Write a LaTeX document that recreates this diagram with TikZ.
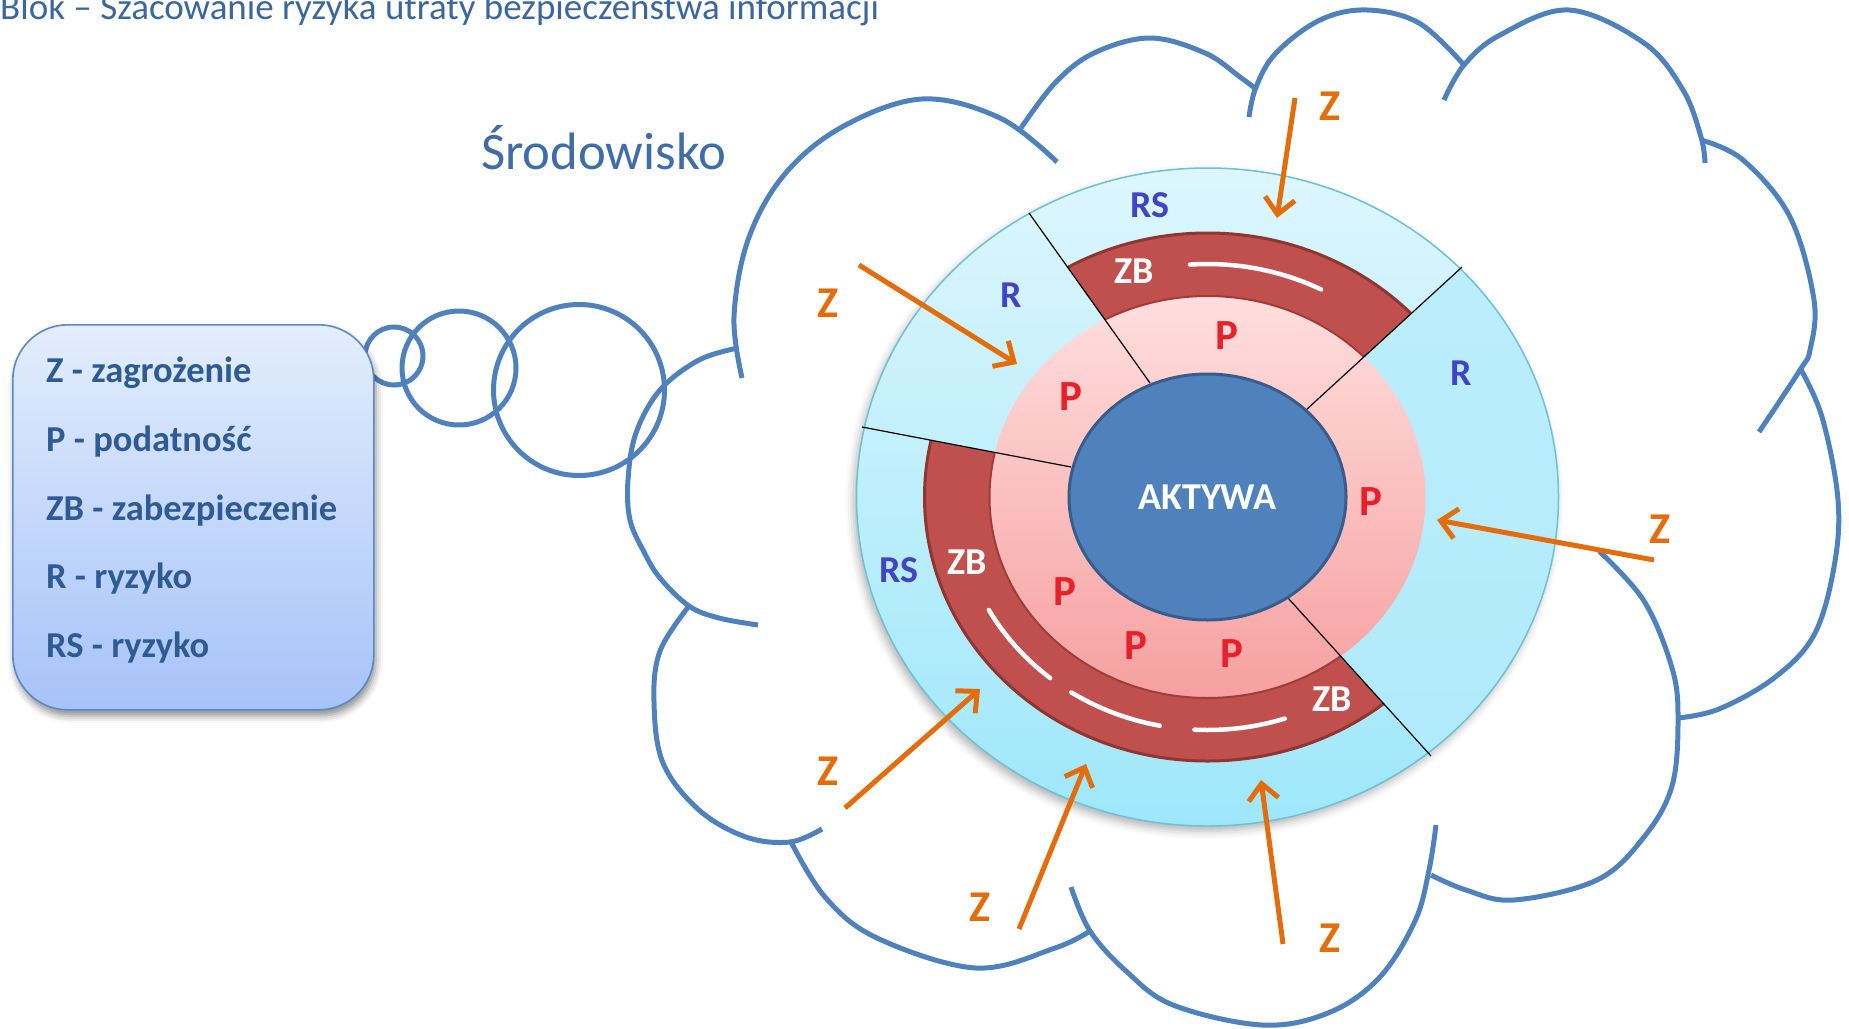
\documentclass[tikz,border=0pt]{standalone}
\usepackage{fontspec}
\setmainfont{Carlito}
\usetikzlibrary{arrows.meta,shapes.geometric,shadows.blur}

\definecolor{cloudblue}{HTML}{4F81BD}
\definecolor{titleblue}{HTML}{3B679E}
\definecolor{envblue}{HTML}{3F6DA7}
\definecolor{legendtext}{HTML}{2E5B94}
\definecolor{legendtop}{HTML}{E3EDFD}
\definecolor{legendbottom}{HTML}{A6C3F8}
\definecolor{legendborder}{HTML}{5B8AC6}
\definecolor{ringtop}{HTML}{DDF6FD}
\definecolor{ringbottom}{HTML}{9EE7FA}
\definecolor{ringedge}{HTML}{6DC0D6}
\definecolor{sectortop}{HTML}{BFEEFC}
\definecolor{sectorbottom}{HTML}{AEEAFB}
\definecolor{zbred}{HTML}{C0504D}
\definecolor{zbdark}{HTML}{8F3532}
\definecolor{pinktop}{HTML}{FFDEDE}
\definecolor{pinkbottom}{HTML}{F6A0A0}
\definecolor{pinkrim}{HTML}{A03C39}
\definecolor{coreblue}{HTML}{4F81BD}
\definecolor{coreedge}{HTML}{385D8A}
\definecolor{riskblue}{HTML}{4343C6}
\definecolor{vulnred}{HTML}{E8202A}
\definecolor{threat}{HTML}{E46C0A}

\tikzset{
  cloudline/.style={draw=cloudblue, line width=5pt},
  bubble/.style={circle, draw=cloudblue, line width=5pt, inner sep=0pt},
  legendbox/.style={rectangle, rounded corners=55pt, draw=legendborder, line width=1.6pt,
    top color=legendtop, bottom color=legendbottom, inner sep=0pt,
    blur shadow={shadow xshift=2pt, shadow yshift=-6pt, shadow blur radius=7pt, shadow opacity=45}},
  legendline/.style={anchor=base west, inner sep=0pt, text=legendtext,
    font=\bfseries\fontsize{36.5}{40}\selectfont},
  divider/.style={draw=black, line width=1.2pt},
  highlight/.style={draw=white, line width=4.5pt, line cap=round},
  core/.style={ellipse, minimum width=277pt, minimum height=246pt, inner sep=0pt,
    fill=coreblue, draw=coreedge, line width=3pt, text=white,
    font=\bfseries\fontsize{38}{40}\selectfont},
  risklabel/.style={inner sep=0pt, text=riskblue, font=\bfseries\fontsize{38}{40}\selectfont},
  guardlabel/.style={inner sep=0pt, text=white, font=\bfseries\fontsize{38}{40}\selectfont},
  vulnlabel/.style={inner sep=0pt, text=vulnred, font=\bfseries\fontsize{43}{45}\selectfont},
  threatlabel/.style={inner sep=0pt, text=threat, font=\bfseries\fontsize{44}{46}\selectfont},
  threatarrow/.style={draw=threat, line width=5pt, -{Straight Barb[length=16pt, width=30pt]}},
}

\begin{document}
\begin{tikzpicture}[x=1pt, y=-1pt]
\useasboundingbox (0,0) rectangle (1849,1028);

% headings
\node[anchor=base west, inner sep=0pt, text=titleblue, font=\fontsize{37}{40}\selectfont]
  (heading) at (0,19.5) {Blok – Szacowanie ryzyka utraty bezpieczeństwa informacji};
\node[anchor=base west, inner sep=0pt, text=envblue, font=\fontsize{52.7}{56}\selectfont]
  (env) at (481,169) {Środowisko};

% thought bubbles leading to the legend
\node[bubble, minimum size=58pt] (bubA) at (394,356) {};
\node[bubble, minimum size=114pt] (bubB) at (459,368) {};
\node[bubble, minimum size=171pt] (bubC) at (579,390) {};

% legend
\node[legendbox, minimum width=361pt, minimum height=385pt, anchor=north west] (legend) at (12,324) {};
\node[legendline] (legZ)  at (46,382) {Z - zagrożenie};
\node[legendline] (legP)  at (46,451) {P - podatność};
\node[legendline] (legZB) at (46,520) {ZB - zabezpieczenie};
\node[legendline] (legR)  at (46,588) {R - ryzyko};
\node[legendline] (legRS) at (46,657) {RS - ryzyko};

% environment cloud, bump by bump
\draw[cloudline] plot[smooth, tension=0.6] coordinates {(742,378) (734,317) (748,240) (784,175) (842,127) (922,99) (1000,118) (1057,162)};
\draw[cloudline] plot[smooth, tension=0.6] coordinates {(1021,128) (1055,83) (1094,53) (1150,38) (1205,53) (1240,77) (1257,90)};
\draw[cloudline] plot[smooth, tension=0.6] coordinates {(1249,117) (1256,87) (1276,53) (1320,20) (1367,10) (1419,23) (1464,65)};
\draw[cloudline] plot[smooth, tension=0.6] coordinates {(1444,100) (1464,65) (1500,35) (1569,10) (1644,43) (1683,90) (1701,137) (1705,163)};
\draw[cloudline] plot[smooth, tension=0.6] coordinates {(1701,140) (1743,160) (1790,217) (1814,300) (1810,350) (1800,370) (1759,432)};
\draw[cloudline] plot[smooth, tension=0.6] coordinates {(1800,368) (1822,417) (1838,500) (1834,567) (1814,635) (1774,678) (1719,709) (1678,718)};
\draw[cloudline] plot[smooth, tension=0.6] coordinates {(1599,551) (1644,601) (1672,668) (1678,719) (1672,786) (1644,837) (1597,880) (1514,900) (1466,890) (1431,875)};
\draw[cloudline] plot[smooth, tension=0.6] coordinates {(1436,825) (1429,870) (1415,921) (1379,978) (1328,1013) (1262,1025) (1173,1005) (1126,971) (1090,931) (1071,887)};
\draw[cloudline] plot[smooth, tension=0.6] coordinates {(790,840) (825,897) (877,938) (976,968) (1055,948) (1090,931)};
\draw[cloudline] plot[smooth, tension=0.6] coordinates {(689,606) (660,651) (654,702) (663,763) (699,810) (746,837) (790,842) (822,829)};
\draw[cloudline] plot[smooth, tension=0.6] coordinates {(738,348) (699,360) (660,390) (636,433) (628,480) (630,520) (644,552) (660,578) (689,606) (719,618) (758,625)};

% layered rings around the assets
\coordinate (ctr) at (1207.5,497);
\shade[top color=ringtop, bottom color=ringbottom,
  blur shadow={shadow xshift=-3pt, shadow yshift=-5pt, shadow blur radius=8pt, shadow opacity=30}]
  (ctr) ellipse[x radius=351pt, y radius=329pt];
\filldraw[fill=zbred, draw=zbdark, line width=3pt] (ctr) ellipse[x radius=283pt, y radius=264pt];
\shade[top color=pinktop, bottom color=pinkbottom] (ctr) ellipse[x radius=218pt, y radius=201pt];
\draw[draw=pinkrim, line width=2pt] (ctr) ellipse[x radius=218pt, y radius=201pt];

% upper-left risk sector: no safeguard ring
\begin{scope}
  \clip (1180,460) -- (1150,383) -- (956,111) -- (700,111) -- (700,407) -- (757,407) -- (1071,467) -- cycle;
  \shade[top color=ringtop, bottom color=ringbottom] (ctr) ellipse[x radius=351pt, y radius=329pt];
  \shade[top color=pinktop, bottom color=pinkbottom] (ctr) ellipse[x radius=218pt, y radius=201pt];
\end{scope}
% right risk sector
\begin{scope}
  \clip (1250,497) -- (1306,410) -- (1587,153) -- (1700,153) -- (1700,882) -- (1545,882) -- (1288,598) -- cycle;
  \shade[top color=sectortop, bottom color=sectorbottom] (ctr) ellipse[x radius=351pt, y radius=329pt];
  \shade[top color=pinktop, bottom color=pinkbottom] (ctr) ellipse[x radius=218pt, y radius=201pt];
\end{scope}
\draw[draw=ringedge, line width=1.5pt] (ctr) ellipse[x radius=351pt, y radius=329pt];

% highlights on the safeguard ring
\draw[highlight] plot[domain=94:63, samples=20] ({1207.5+250*cos(\x)},{497-233*sin(\x)});
\draw[highlight] plot[domain=209:231, samples=15] ({1207.5+250*cos(\x)},{497-233*sin(\x)});
\draw[highlight] plot[domain=237:259, samples=15] ({1207.5+250*cos(\x)},{497-233*sin(\x)});
\draw[highlight] plot[domain=267:288, samples=15] ({1207.5+250*cos(\x)},{497-233*sin(\x)});

% sector dividers
\coordinate (d1a) at (1029,213); \coordinate (d1b) at (1150,383);
\coordinate (d2a) at (862,427);  \coordinate (d2b) at (1071,467);
\coordinate (d3a) at (1462,267); \coordinate (d3b) at (1306,410);
\coordinate (d4a) at (1288,598); \coordinate (d4b) at (1431,756);
\draw[divider] (d1a) -- (d1b);
\draw[divider] (d2a) -- (d2b);
\draw[divider] (d3a) -- (d3b);
\draw[divider] (d4a) -- (d4b);

% assets
\node[core] (aktywa) at (ctr) {AKTYWA};

% sector labels
\node[risklabel] (rsTop)   at (1150,205) {RS};
\node[risklabel] (rLeft)   at (1011,295) {R};
\node[risklabel] (rRight)  at (1461,373) {R};
\node[risklabel] (rsLeft)  at (899,570)  {RS};
\node[guardlabel] (zbTop)  at (1134,271) {ZB};
\node[guardlabel] (zbLeft) at (967,562)  {ZB};
\node[guardlabel] (zbLow)  at (1332,699) {ZB};
\node[vulnlabel] (pTop)    at (1227,336) {P};
\node[vulnlabel] (pLeft)   at (1071,397) {P};
\node[vulnlabel] (pRight)  at (1371,502) {P};
\node[vulnlabel] (pLowA)   at (1065,592) {P};
\node[vulnlabel] (pLowB)   at (1136,646) {P};
\node[vulnlabel] (pLowC)   at (1232,654) {P};

% threats
\node[threatlabel] (zTop)    at (1330,106) {Z};
\node[threatlabel] (zLeft)   at (828,303)  {Z};
\node[threatlabel] (zRight)  at (1660,529) {Z};
\node[threatlabel] (zLowL)   at (828,771)  {Z};
\node[threatlabel] (zLowM)   at (980,907)  {Z};
\node[threatlabel] (zLowR)   at (1330,938) {Z};

\coordinate (t1s) at (1295,98);  \coordinate (t1e) at (1277,218);
\coordinate (t2s) at (859,265);  \coordinate (t2e) at (1017,364);
\coordinate (t3s) at (1654,560); \coordinate (t3e) at (1437,520);
\coordinate (t4s) at (845,808);  \coordinate (t4e) at (980,689);
\coordinate (t5s) at (1019,929); \coordinate (t5e) at (1086,764);
\coordinate (t6s) at (1283,944); \coordinate (t6e) at (1261,780);
\draw[threatarrow] (t1s) -- (t1e);
\draw[threatarrow] (t2s) -- (t2e);
\draw[threatarrow] (t3s) -- (t3e);
\draw[threatarrow] (t4s) -- (t4e);
\draw[threatarrow] (t5s) -- (t5e);
\draw[threatarrow] (t6s) -- (t6e);
\end{tikzpicture}
\end{document}
